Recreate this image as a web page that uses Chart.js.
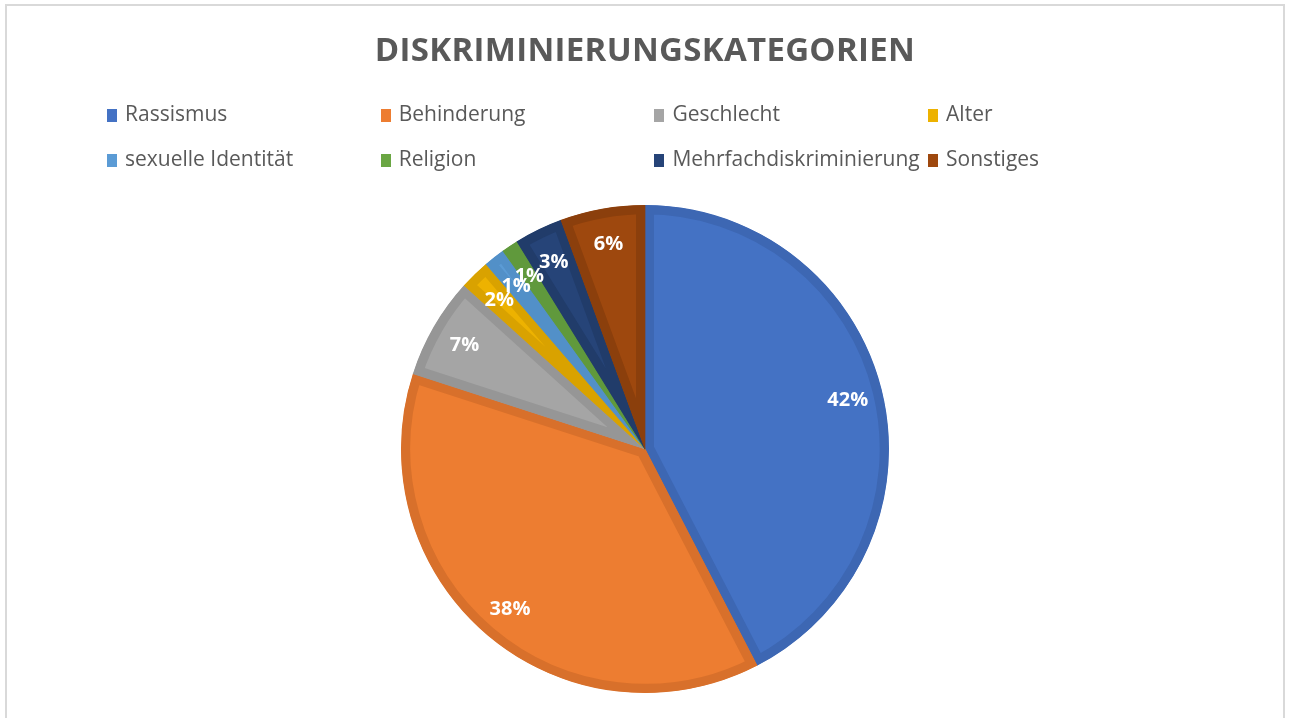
<!DOCTYPE html>
<html lang="de">
<head>
<meta charset="utf-8">
<title>Diskriminierungkategorien</title>
<script src="https://cdn.jsdelivr.net/npm/chart.js@4.4.1/dist/chart.umd.min.js"></script>
<style>
  html, body { margin: 0; padding: 0; background: #fff; }
  #wrap { position: relative; width: 1290px; height: 718px; overflow: hidden; font-family: "Open Sans", sans-serif; }
  #frame { position: absolute; left: 5px; top: 4px; width: 1276px; height: 760px; border: 2px solid #d9d9d9; }
  #title { position: absolute; left: 0; width: 1290px; top: 32px; text-align: center; font-size: 33px; line-height: 33px; font-weight: 700; color: #595959; letter-spacing: 0.3px; }
  #legend { position: absolute; left: 107px; top: 103px; }
  .item { position: absolute; white-space: nowrap; font-size: 21px; line-height: 21px; color: #595959; }
  .item i { display: inline-block; width: 10px; height: 13px; margin-right: 8px; vertical-align: -1px; }
  canvas { position: absolute; left: 0; top: 0; }
</style>
</head>
<body>
<div id="wrap">
  <div id="frame"></div>
  <canvas id="chartKat" width="1290" height="718"></canvas>
  <div id="title">DISKRIMINIERUNGSKATEGORIEN</div>
  <div id="legend"></div>
</div>
<script>
const categories = ["Rassismus", "Behinderung", "Geschlecht", "Alter", "sexuelle Identität", "Religion", "Mehrfachdiskriminierung", "Sonstiges"];
const shares = [42.4, 37.6, 6.7, 2.0, 1.4, 1.1, 3.2, 5.6];

const fillColors = ["#4472C4", "#ED7D31", "#A5A5A5", "#EDB200", "#5B9BD5", "#6AA643", "#264478", "#9E480E"];
const edgeColors = ["#3D67B3", "#D8702B", "#969696", "#D9A200", "#5290C8", "#60993C", "#213C6A", "#8B3F0C"];

// legend as html grid (4 columns)
const legend = document.getElementById("legend");
categories.forEach((name, i) => {
  const el = document.createElement("div");
  el.className = "item";
  el.style.left = (i % 4) * 273.7 + "px";
  el.style.top = Math.floor(i / 4) * 45 + "px";
  el.innerHTML = '<i style="background:' + fillColors[i] + '"></i>' + name;
  legend.appendChild(el);
});

const pctLabels = {
  id: "pctLabels",
  afterDatasetsDraw(chart) {
    const ctx = chart.ctx;
    const data = chart.data.datasets[0].data;
    const total = data.reduce((a, b) => a + b, 0);
    ctx.save();
    ctx.fillStyle = "#fff";
    ctx.font = "bold 20px 'Open Sans'";
    ctx.textAlign = "center";
    ctx.textBaseline = "middle";
    chart.getDatasetMeta(0).data.forEach((arc, i) => {
      const p = arc.getProps(["x", "y", "startAngle", "endAngle", "outerRadius"]);
      const mid = (p.startAngle + p.endAngle) / 2;
      const r = p.outerRadius * 0.855;
      ctx.fillText(Math.round(data[i] / total * 100) + "%", p.x + Math.cos(mid) * r, p.y + Math.sin(mid) * r + 1);
    });
    ctx.restore();
  }
};

new Chart(document.getElementById("chartKat"), {
  type: "pie",
  data: {
    labels: categories,
    datasets: [
      {
        data: shares,
        backgroundColor: fillColors,
        borderColor: edgeColors,
        borderWidth: 9,
        borderAlign: "inner",
      },
    ],
  },
  options: {
    responsive: false,
    animation: false,
    layout: {
      padding: { top: 205, bottom: 25 },
    },
    plugins: {
      legend: { display: false },
      tooltip: { enabled: false },
    },
  },
  plugins: [pctLabels],
});
</script>
</body>
</html>
